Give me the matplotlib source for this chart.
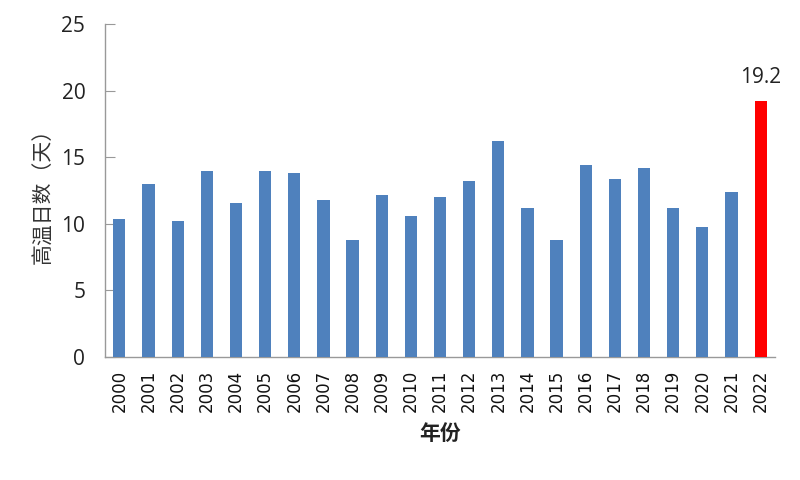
import matplotlib
matplotlib.use("Agg")
import matplotlib.pyplot as plt

years = ["2000", "2001", "2002", "2003", "2004", "2005", "2006", "2007", "2008", "2009",
         "2010", "2011", "2012", "2013", "2014", "2015", "2016", "2017", "2018", "2019",
         "2020", "2021", "2022"]
days = [10.4, 13.0, 10.2, 14.0, 11.6, 14.0, 13.8, 11.8, 8.8, 12.2,
        10.6, 12.0, 13.2, 16.2, 11.2, 8.8, 14.4, 13.4, 14.2, 11.2,
        9.8, 12.4, 19.2]
highlight_label = "19.2"

plt.rcParams['font.family'] = ['Noto Sans CJK SC', 'DejaVu Sans']

fig = plt.figure(figsize=(8, 4.8), dpi=100)
ax = fig.add_axes([0.131, 0.256, 0.838, 0.694])

colors = ["#4F81BD"] * (len(years) - 1) + ["#FF0000"]
x = list(range(len(years)))
ax.bar(x, days, width=0.42, color=colors, zorder=3)

ax.set_xlim(-0.5, len(years) - 0.5)
ax.set_ylim(0, 25)
ax.set_yticks([0, 5, 10, 15, 20, 25])
ax.set_yticklabels(["0", "5", "10", "15", "20", "25"], fontsize=15,
                   family=['Open Sans', 'DejaVu Sans'], color="#222222")
ax.set_xticks(x)
ax.set_xticklabels(years, rotation=90, fontsize=12, family=['DejaVu Sans'], color="#111111")
ax.tick_params(axis='x', length=0, pad=9)
ax.tick_params(axis='y', direction='in', length=7, color="#999999", pad=14)

for s in ["top", "right"]:
    ax.spines[s].set_visible(False)
for s in ["left", "bottom"]:
    ax.spines[s].set_color("#999999")
    ax.spines[s].set_linewidth(1.0)

ax.text(x[-1], days[-1] + 1.0, highlight_label, ha="center", va="bottom",
        fontsize=15, family=['Open Sans', 'DejaVu Sans'], color="#222222")

ax.set_ylabel("高温日数（天）", fontsize=15, color="#333333", labelpad=5)
ax.set_xlabel("年份", fontsize=15, fontweight="bold", color="#222222", labelpad=8)

fig.savefig("out.png", dpi=100)
